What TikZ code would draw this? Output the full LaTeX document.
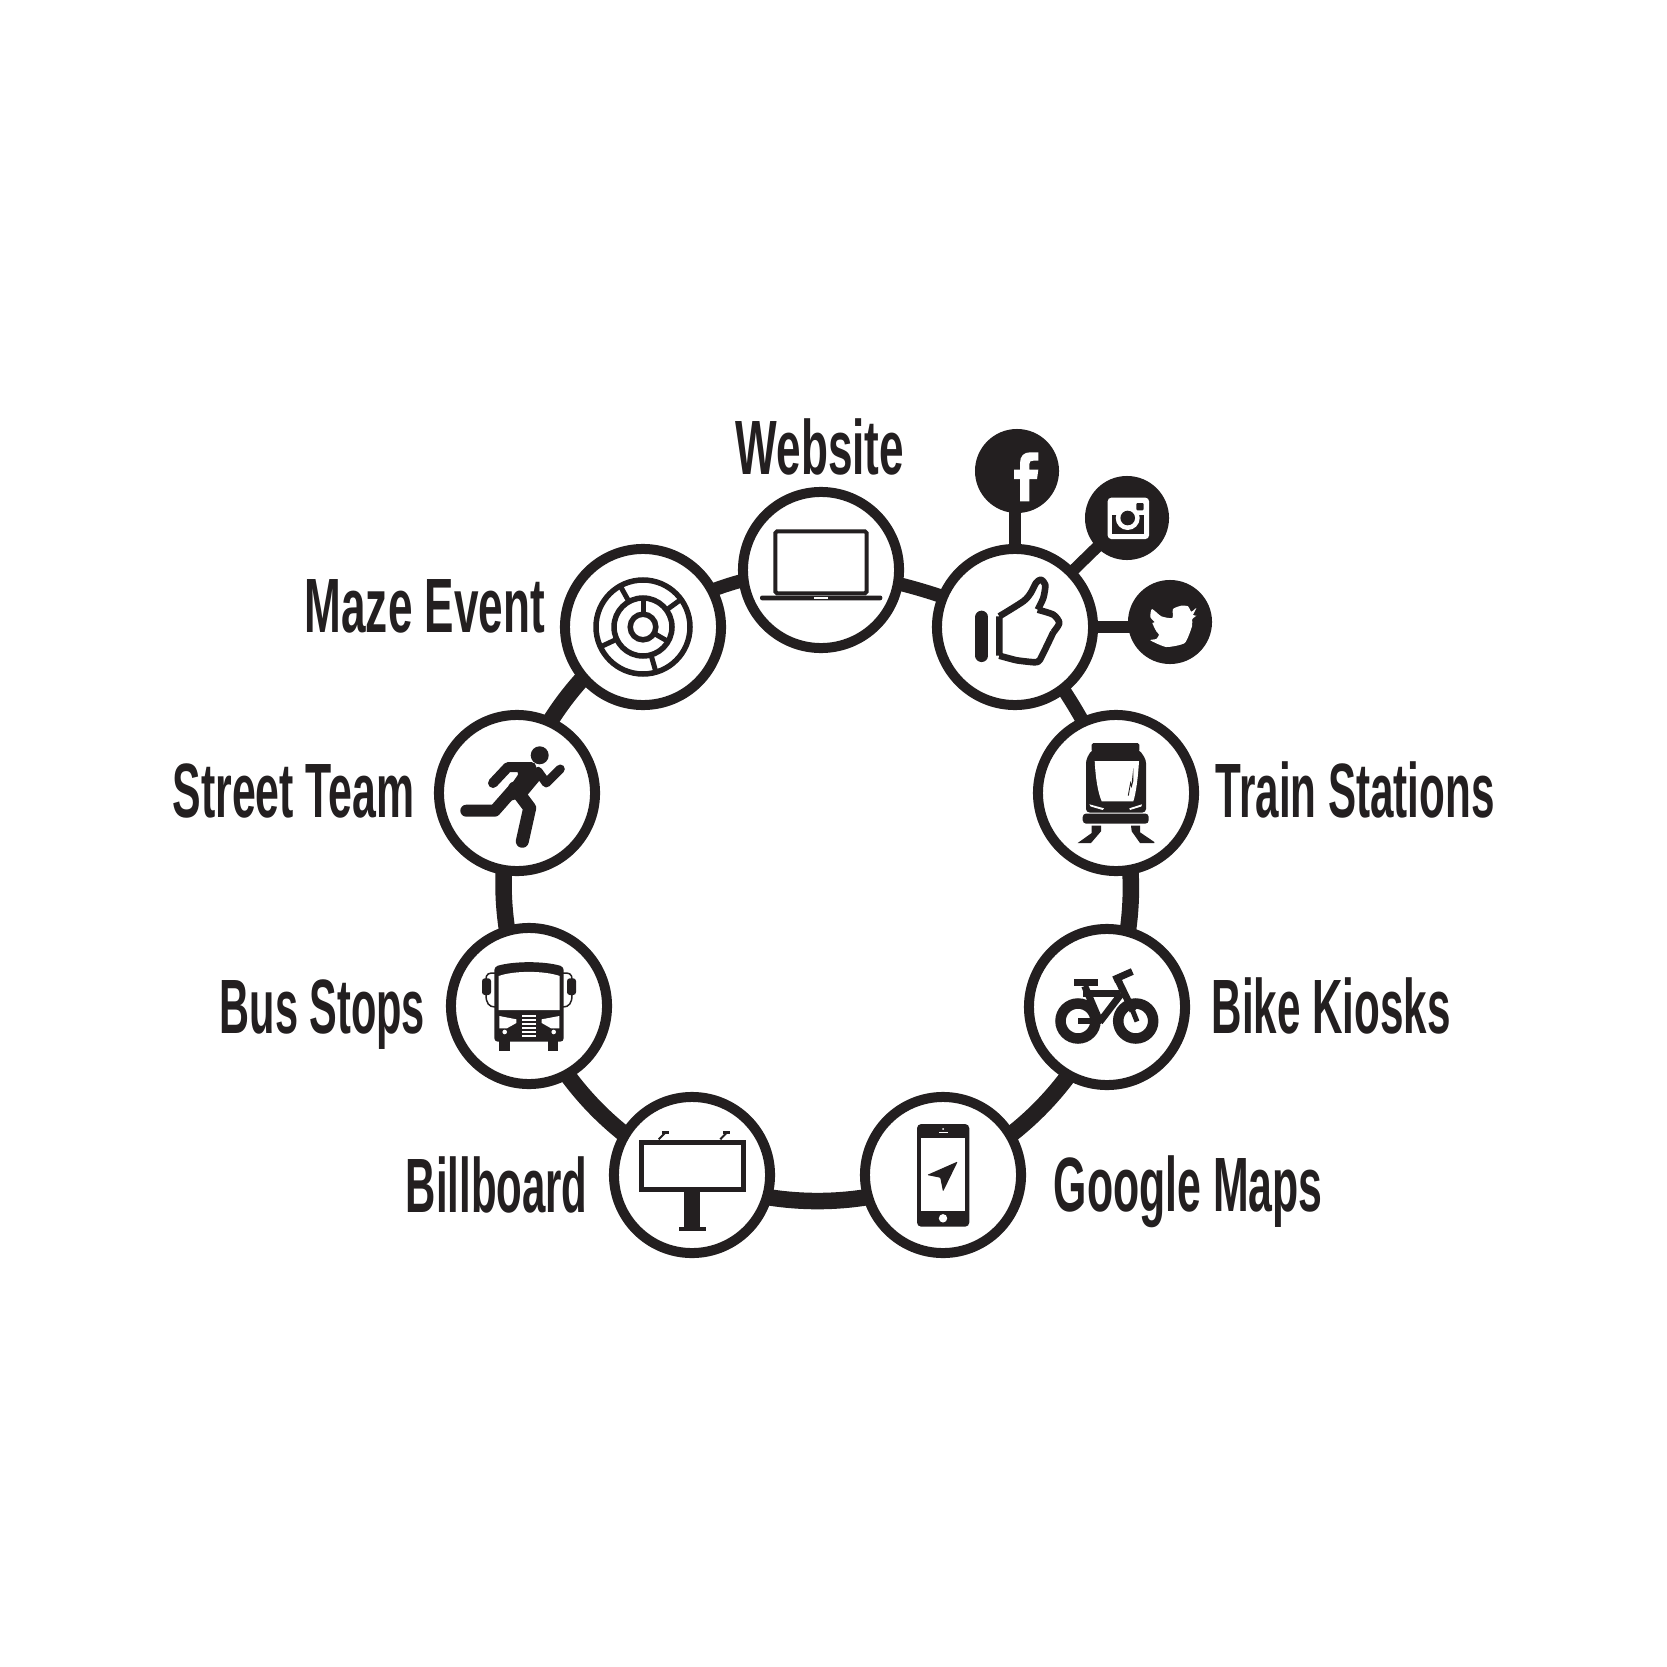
\documentclass[tikz,border=0pt]{standalone}
\usepackage{fontspec}
\usepackage{xcolor}
\usepackage{tikz}
\usetikzlibrary{
  backgrounds
}
\newfontfamily\labelfont[FakeStretch=0.556]{Liberation Sans}
\definecolor{InkBlack}{RGB}{35, 31, 32}
\tikzset{
    hub/.style={circle, draw=InkBlack, fill=white, line width=1mm, minimum size=15.6mm, inner sep=0pt},
    badge/.style={circle, fill=InkBlack, minimum size=8.4mm, inner sep=0pt},
    tag/.style={anchor=base west, inner sep=0pt, text=InkBlack, font=\labelfont\bfseries\fontsize{21.9}{26}\selectfont},
    band/.style={draw=InkBlack, line width=1.65mm, looseness=0.89},
    thinband/.style={band, line width=1.35mm},
    spur/.style={draw=InkBlack, line width=1.15mm}
}

\begin{document}
\begin{tikzpicture}[x=0.01cm, y=-0.01cm]
    \useasboundingbox (0,0) rectangle (1667,1667);

    \node[hub] (website) at (821,570) {};
    \node[hub] (thumb) at (1015,627) {};
    \node[hub] (train) at (1116,793) {};
    \node[hub] (bike) at (1107,1007) {};
    \node[hub] (maps) at (943,1175) {};
    \node[hub] (billboard) at (692,1175) {};
    \node[hub] (bus) at (529,1006) {};
    \node[hub] (street) at (517,793) {};
    \node[hub] (maze) at (643,627) {};
    \node[badge] (facebook) at (1017,471) {};
    \node[badge] (instagram) at (1127,518) {};
    \node[badge] (twitter) at (1170,622) {};

    \begin{scope}[on background layer]
        \draw[thinband] (website.center) to[bend left=10] (thumb.center);
        \draw[thinband] (thumb.center) to[bend left=10.5] (train.center);
        \draw[band] (train.center) to[bend left=20] (bike.center);
        \draw[band] (bike.center) to[bend left=22] (maps.center);
        \draw[band] (maps.center) to[bend left=23.5] (billboard.center);
        \draw[band] (billboard.center) to[bend left=22] (bus.center);
        \draw[band] (bus.center) to[bend left=20] (street.center);
        \draw[band] (street.center) to[bend left=19.5] (maze.center);
        \draw[thinband] (maze.center) to[bend left=17] (website.center);
        \draw[spur] (thumb.center) -- (thumb.center |- facebook.center);
        \draw[spur] (thumb.center) -- (instagram.center);
        \draw[spur] (thumb.center) -- (twitter.center |- thumb.center);
    \end{scope}

    \node[tag] (websitetag) at (735,475) {\scalebox{1.03}[1]{Website}};
    \node[tag] (mazetag) at (304,632) {\scalebox{1.03}[1]{Maze Event}};
    \node[tag] (streettag) at (172,817) {Street Team};
    \node[tag] (bustag) at (219,1033) {\scalebox{0.97}[1]{Bus Stops}};
    \node[tag] (billboardtag) at (405,1212) {\scalebox{0.98}[1]{Billboard}};
    \node[tag] (mapstag) at (1053,1211) {Google Maps};
    \node[tag] (biketag) at (1211,1033) {\scalebox{0.985}[1]{Bike Kiosks}};
    \node[tag] (traintag) at (1215,817) {\scalebox{0.985}[1]{Train Stations}};

    \begin{scope}[shift={(website.center)}]
        \draw[InkBlack, line width=0.4mm, rounded corners=0.5pt] (-45.7,-38.7) rectangle (45.7,23.3);
        \fill[InkBlack, rounded corners=0.6pt] (-61,25.5) rectangle (61.3,30.3);
        \fill[white] (-7,27) rectangle (7,28.7);
    \end{scope}

    \begin{scope}[shift={(maze.center)}]
        \draw[InkBlack, line width=0.55mm] (0,0) circle (47);
        \draw[InkBlack, line width=0.55mm] (0,0) circle (29);
        \draw[InkBlack, line width=0.55mm] (0,0) circle (12.8);
        \foreach \spoke in {-119,-36,-205,74}
            \draw[InkBlack, line width=0.5mm] (\spoke:29) -- (\spoke:47);
        \foreach \spoke in {-90,30}
            \draw[InkBlack, line width=0.5mm] (\spoke:12.8) -- (\spoke:29);
    \end{scope}

    \begin{scope}[shift={(thumb.center)}]
        \draw[InkBlack, line width=1.27mm, line cap=round] (-33.3,-10) -- (-33.3,28.7);
        \draw[InkBlack, line width=0.66mm, line join=round] plot[smooth, tension=0.45] coordinates {(-15.7,-10.7) (8.3,-25.7) (15.7,-34) (21,-44) (25.7,-47.3) (30.3,-42.3) (28.3,-29) (22.7,-17.3)}
            plot[smooth, tension=0.45] coordinates {(22.7,-17.3) (38.3,-12.3) (44.3,-4) (38.3,5.3)}
            plot[smooth, tension=0.3] coordinates {(38.3,5.3) (25,32.7) (20,35.3) (1.7,33.3) (-15.7,28.7)}
            (-15.7,28.7) -- (-15.7,-10.7);
    \end{scope}

    \begin{scope}[shift={(facebook.center)}]
        \fill[white] (3,30.3) -- (3,8) -- (-3,8) -- (-3,-1.3) -- (3,-1.3) -- (3,-8) .. controls (3,-15) and (7,-18.7) .. (13,-18.7) -- (21.3,-18.7) -- (21.3,-10.3) -- (16.3,-10.3) .. controls (13.5,-10.3) and (12.3,-9.5) .. (12.3,-7) -- (12.3,-1.3) -- (21.3,-1.3) -- (20,8) -- (12.3,8) -- (12.3,30.3) -- cycle;
    \end{scope}

    \begin{scope}[shift={(instagram.center)}]
        \fill[white, rounded corners=1pt] (-19.3,-20.3) rectangle (22,21);
        \fill[InkBlack] (-14.7,-2.7) rectangle (17.3,16.3);
        \fill[white] (0.7,0) circle (12);
        \fill[InkBlack] (0.7,0) circle (7.3);
        \fill[InkBlack, rounded corners=0.3pt] (9.3,-15) rectangle (16.7,-7.7);
    \end{scope}

    \begin{scope}[shift={(twitter.center)}]
        \fill[white] plot[smooth cycle, tension=0.35] coordinates {(26.3,-14) (21.3,-10.3) (18,-15.7) (11.3,-16.3) (3,-13) (2.3,-4) (-8.7,-5.7) (-18,-13) (-19.7,-5) (-15.3,0.3) (-17.7,1) (-13.7,9.3) (-11,12.7) (-13.7,17) (-19.7,18.3) (-3.7,25) (14.7,21) (22,4.3) (22.3,-3) (26.3,-6.3) (23,-7)};
    \end{scope}

    \begin{scope}[shift={(train.center)}]
        \fill[InkBlack, rounded corners=0.5pt] (-24.3,-50) rectangle (23.3,-41);
        \fill[InkBlack, rounded corners=1pt] (-24.3,-43.3) -- (-30,-33.3) -- (-30,19.5) -- (30,19.5) -- (30,-33.3) -- (23.3,-43.3) -- cycle;
        \fill[white] (-21.3,-32) -- (23,-32) .. controls (22,-15) and (20,0) .. (17.3,8.3) -- (-14.3,8.3) .. controls (-18,0) and (-20.5,-15) .. (-21.3,-32) -- cycle;
        \fill[InkBlack] (11.8,2.7) -- (14.5,-12) -- (15.5,-8) -- (17.3,-25) -- (17.3,-12) -- (15.5,-5) -- (14.5,-8) -- (12.8,2.7) -- cycle;
        \fill[white] (-26.7,11.3) -- (-12,15.3) -- (-13.3,17) -- (-25.3,13.5) -- cycle;
        \fill[white] (26,11.3) -- (13.3,15.3) -- (14,17) -- (25.3,13.5) -- cycle;
        \fill[InkBlack, rounded corners=1pt] (-33.3,20.5) rectangle (32.7,30.7);
        \fill[InkBlack] (-24.3,32.7) -- (-15,32.7) -- (-15,38.3) -- (-25,50) -- (-38.3,50) -- (-24.3,40) -- cycle;
        \fill[InkBlack] (15,32.7) -- (24,32.7) -- (24,39.3) -- (38.3,49) -- (38.3,50) -- (24,50) -- (15.7,38.3) -- cycle;
    \end{scope}

    \begin{scope}[shift={(bike.center)}]
        \draw[InkBlack, line width=1.05mm] (-29,14) circle (17.5);
        \draw[InkBlack, line width=1.05mm] (28.7,14) circle (17.5);
        \fill[InkBlack] (-29,10.7) rectangle (-15.7,17.3);
        \fill[InkBlack] (-33,-28.3) rectangle (-9,-20.7);
        \draw[InkBlack, line width=0.7mm] (-24,-14) -- (12.7,-14);
        \draw[InkBlack, line width=0.7mm] (-22.3,-21) -- (-7.3,14);
        \draw[InkBlack, line width=0.7mm] (14.3,-13.3) -- (-7.3,15);
        \draw[InkBlack, line width=0.66mm] (-16,14) -- (-5.7,14);
        \draw[InkBlack, line width=0.7mm] (11,-27) -- (26,4);
        \draw[InkBlack, line width=0.5mm] (25,2) -- (30,14.5);
        \draw[InkBlack, line width=0.7mm] (6.7,-27.3) -- (25.3,-35.5);
    \end{scope}

    \begin{scope}[shift={(maps.center)}]
        \fill[InkBlack, rounded corners=1.2pt] (-26,-51) rectangle (26.3,51.7);
        \fill[white] (-21.7,-37) rectangle (22.3,35.7);
        \fill[white] (0,43.3) circle (4.2);
        \fill[white] (-4.3,-43.3) rectangle (4.7,-41.7);
        \fill[white] (0,-46) circle (1);
        \fill[InkBlack, rounded corners=0.3pt] (14.7,-13.5) -- (-16,0) -- (-2.7,2.7) -- (0,16.7) -- cycle;
    \end{scope}

    \begin{scope}[shift={(billboard.center)}]
        \draw[InkBlack, line width=0.5mm] (-51,-33) rectangle (51.3,14.3);
        \fill[InkBlack] (-7.7,16) rectangle (8,51.7);
        \fill[InkBlack] (-13.3,52.3) rectangle (13.7,55.7);
        \draw[InkBlack, line width=0.2mm] (-33.3,-35.7) -- (-27,-42);
        \draw[InkBlack, line width=0.2mm] (28.3,-35.7) -- (34.3,-42);
        \fill[InkBlack] (-30,-44) rectangle (-23.3,-40.7);
        \fill[InkBlack] (31,-44) rectangle (38.3,-40.7);
    \end{scope}

    \begin{scope}[shift={(bus.center)}]
        \fill[InkBlack, rounded corners=1pt] (-34.7,-39.3) .. controls (-15,-45) and (15,-45) .. (34.7,-39.3) -- (34.7,35.7) -- (-34.7,35.7) -- cycle;
        \fill[white] (-30.3,-30) .. controls (-15,-35.5) and (15,-35.5) .. (30.7,-30) -- (30.7,4) -- (-30.3,4) -- cycle;
        \fill[white] (-29.7,10) -- (-12.7,13.3) -- (-12.7,17) -- (-22,22.3) -- (-29.7,22.3) -- cycle;
        \fill[white] (30.3,10) -- (12.7,13.3) -- (12.7,17) -- (22,22.3) -- (30.3,22.3) -- cycle;
        \foreach \gy in {9,13,...,29}
            \fill[white] (-7,\gy) rectangle (7.3,\gy+2.4);
        \fill[white] (-24.3,26) circle (2.3);
        \fill[white] (24.7,26) circle (2.3);
        \fill[InkBlack] (-29.7,35) rectangle (-19.3,45);
        \fill[InkBlack] (18.7,35) rectangle (28.7,45);
        \fill[InkBlack, rounded corners=0.8pt] (-47,-27.7) rectangle (-38,-11);
        \fill[InkBlack, rounded corners=0.8pt] (38,-27.7) rectangle (47,-11);
        \draw[InkBlack, line width=0.15mm] (-34,-33) .. controls (-40,-33.5) and (-43,-32) .. (-43,-27) (-43,-11) .. controls (-43,-3) and (-40,1) .. (-34,1);
        \draw[InkBlack, line width=0.15mm] (34,-33) .. controls (40,-33.5) and (43,-32) .. (43,-27) (43,-11) .. controls (43,-3) and (40,1) .. (34,1);
    \end{scope}

    \begin{scope}[shift={(street.center)}]
        \fill[InkBlack] (22.7,-37.7) circle (9);
        \draw[InkBlack, line width=1mm, line cap=round, line join=round] (-24,-10) -- (-9,-26) -- (14.3,-26);
        \draw[InkBlack, line width=0.9mm, line cap=round, line join=round] (21,-21.7) -- (29.3,-10) -- (43.3,-24);
        \draw[InkBlack, line width=1.2mm, line cap=round, line join=round] (-50.7,17.7) -- (-22.3,17.7) -- (-2.3,-5);
        \draw[InkBlack, line width=1.3mm, line cap=round, line join=round] (-2.3,-5) -- (12.7,15) -- (5.3,48.3);
        \fill[InkBlack] (-0.7,-30) -- (12.7,-30) -- (26,-16.7) -- (9.3,3.3) -- (-7.3,8) -- (-19,11) -- (1,-18.3) -- cycle;
    \end{scope}
\end{tikzpicture}
\end{document}
